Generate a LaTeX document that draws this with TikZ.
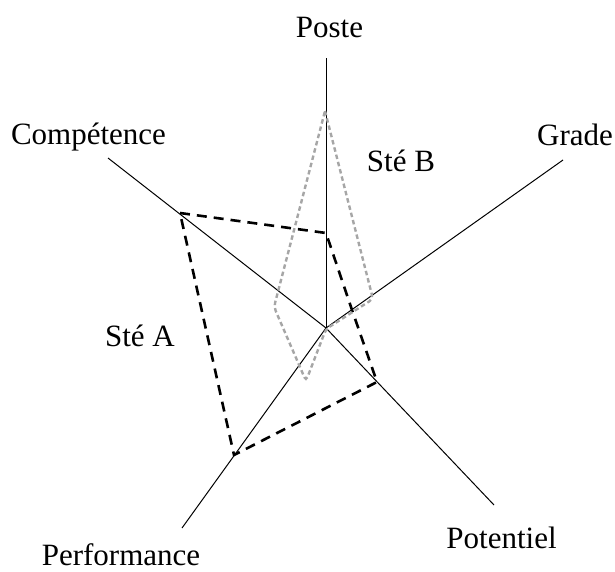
\documentclass[tikz,border=0pt]{standalone}
\usepackage{fontspec}
\setmainfont{Liberation Serif}
\begin{document}
\begin{tikzpicture}[x=1pt,y=-1pt,
  axis/.style={line width=1pt},
  lab/.style={anchor=base, inner sep=0pt, font=\fontsize{31}{36}\selectfont},
  steA/.style={line width=2.6pt, dash pattern=on 10pt off 7pt},
  steB/.style={line width=2.4pt, color=black!35, dash pattern=on 4.5pt off 3pt}]
\useasboundingbox (0,0) rectangle (615,572);
% axes
\coordinate (O) at (326,328);
\coordinate (ePoste) at (326,58);
\coordinate (eGrade) at (563,160);
\coordinate (ePot) at (494,505);
\coordinate (ePerf) at (182,528);
\coordinate (eComp) at (108,158);
\foreach \e in {ePoste,eGrade,ePot,ePerf,eComp} \draw[axis] (O) -- (\e);
% Ste A
\coordinate (a1) at (180,213);
\coordinate (a2) at (326,233);
\coordinate (a3) at (352,310);
\coordinate (a4) at (377,382);
\coordinate (a5) at (234,455);
\draw[steA] (a1) -- (a2) -- (a3) -- (a4) -- (a5) -- cycle;
% Ste B
\coordinate (b1) at (325,111);
\coordinate (b2) at (373,299);
\coordinate (b3) at (326,329);
\coordinate (b4) at (306,381);
\coordinate (b5) at (274,307);
\draw[steB] (b1) [rounded corners=4pt] -- (b2) -- (b3) -- (b4) -- (b5) [sharp corners] -- (b1);
% labels
\node[lab] (lPoste) at (329.5,37.3) {Poste};
\node[lab] (lComp) at (88.5,145) {Compétence};
\node[lab] (lGrade) at (575,146) {Grade};
\node[lab] (lPot) at (501.5,548) {Potentiel};
\node[lab] (lPerf) at (121,565) {Performance};
\node[lab] (lA) at (140,346.7) {Sté A};
\node[lab] (lB) at (401,171.7) {Sté B};
\end{tikzpicture}
\end{document}
